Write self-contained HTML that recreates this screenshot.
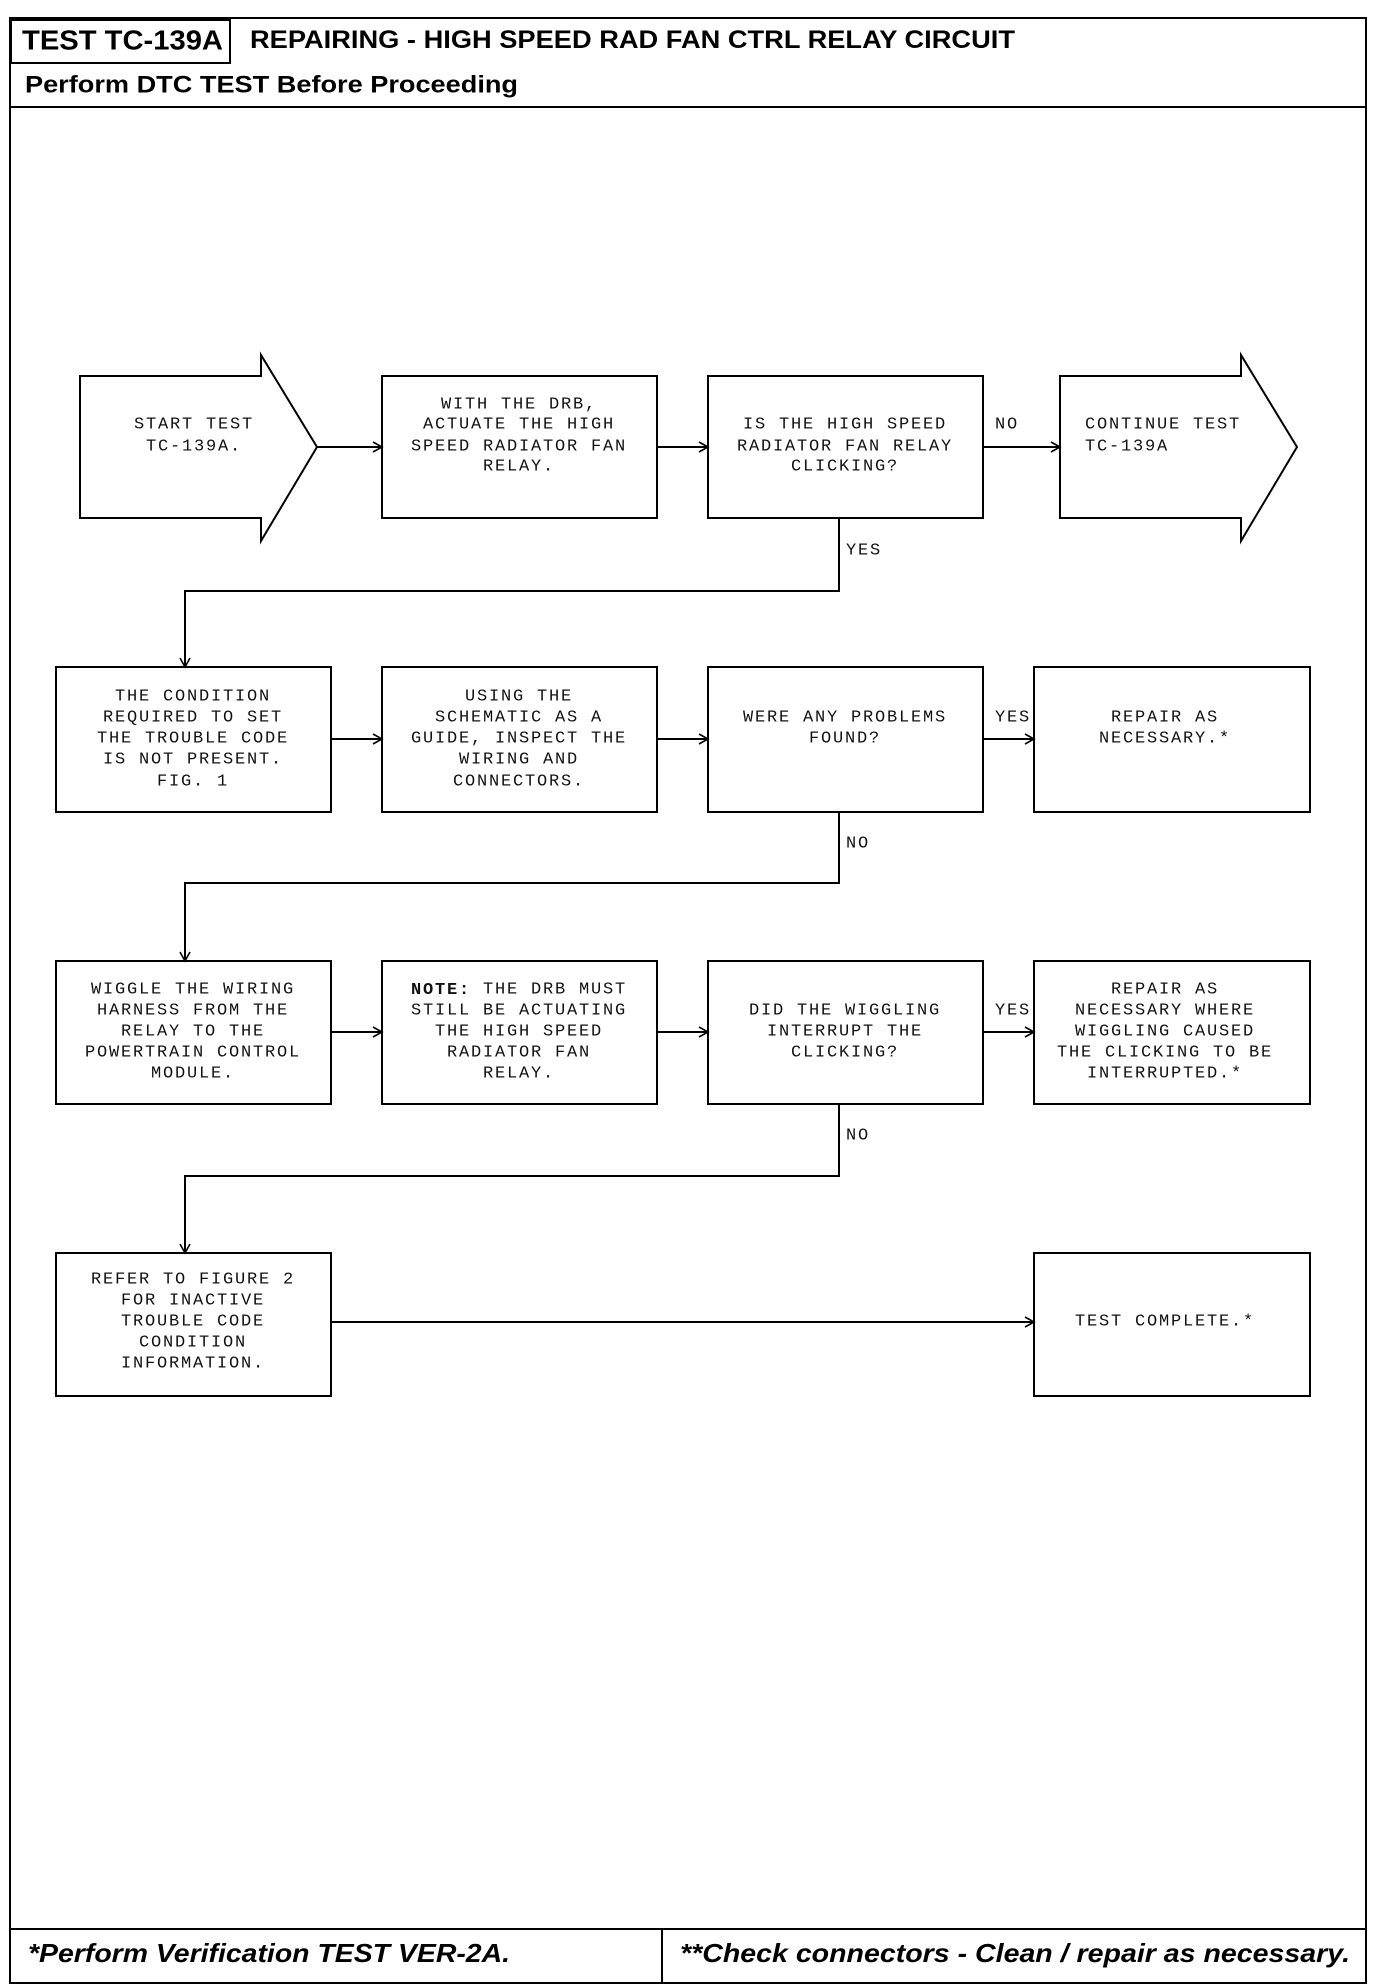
<!DOCTYPE html>
<html><head><meta charset="utf-8"><style>
html,body{margin:0;padding:0;background:#fff}
svg{display:block}
.m{font-family:"Liberation Mono",monospace;font-size:17px;letter-spacing:1.8px;fill:#111;text-anchor:middle;dominant-baseline:central}
.l{text-anchor:start}
.h{font-family:"Liberation Sans",sans-serif;font-weight:bold;fill:#000;dominant-baseline:central}
</style></head><body>
<svg width="1376" height="1986" viewBox="0 0 1376 1986" xmlns="http://www.w3.org/2000/svg">
<defs><marker id="a" markerWidth="12" markerHeight="12" refX="10" refY="6" orient="auto" markerUnits="userSpaceOnUse"><path d="M1,1 L10,6 L1,11" fill="none" stroke="#000" stroke-width="1.6"/></marker></defs>
<g fill="none" stroke="#000" stroke-width="2">
<rect x="10" y="18" width="1356" height="1965"/>
<rect x="11" y="20" width="219" height="43"/>
<line x1="10" y1="107" x2="1366" y2="107"/>
<line x1="10" y1="1929" x2="1366" y2="1929"/>
<line x1="662" y1="1929" x2="662" y2="1983"/>
<!-- row1 -->
<path d="M80,376 H261 V355 L317,447 L261,541 V518 H80 Z"/>
<rect x="382" y="376" width="275" height="142"/>
<rect x="708" y="376" width="275" height="142"/>
<path d="M1060,376 H1241 V355 L1297,447 L1241,541 V518 H1060 Z"/>
<!-- row2 -->
<rect x="56" y="667" width="275" height="145"/>
<rect x="382" y="667" width="275" height="145"/>
<rect x="708" y="667" width="275" height="145"/>
<rect x="1034" y="667" width="276" height="145"/>
<!-- row3 -->
<rect x="56" y="961" width="275" height="143"/>
<rect x="382" y="961" width="275" height="143"/>
<rect x="708" y="961" width="275" height="143"/>
<rect x="1034" y="961" width="276" height="143"/>
<!-- row4 -->
<rect x="56" y="1253" width="275" height="143"/>
<rect x="1034" y="1253" width="276" height="143"/>
<!-- connectors -->
<line x1="317" y1="447" x2="382" y2="447" marker-end="url(#a)"/>
<line x1="657" y1="447" x2="708" y2="447" marker-end="url(#a)"/>
<line x1="983" y1="447" x2="1060" y2="447" marker-end="url(#a)"/>
<path d="M839,518 V591 H185 V667" marker-end="url(#a)"/>
<line x1="331" y1="739" x2="382" y2="739" marker-end="url(#a)"/>
<line x1="657" y1="739" x2="708" y2="739" marker-end="url(#a)"/>
<line x1="983" y1="739" x2="1034" y2="739" marker-end="url(#a)"/>
<path d="M839,812 V883 H185 V961" marker-end="url(#a)"/>
<line x1="331" y1="1032" x2="382" y2="1032" marker-end="url(#a)"/>
<line x1="657" y1="1032" x2="708" y2="1032" marker-end="url(#a)"/>
<line x1="983" y1="1032" x2="1034" y2="1032" marker-end="url(#a)"/>
<path d="M839,1104 V1176 H185 V1253" marker-end="url(#a)"/>
<line x1="331" y1="1322" x2="1034" y2="1322" marker-end="url(#a)"/>
</g>
<text class="h" x="22" y="40" font-size="28" textLength="201" lengthAdjust="spacingAndGlyphs">TEST TC-139A</text>
<text class="h" x="250" y="40" font-size="25" textLength="765" lengthAdjust="spacingAndGlyphs">REPAIRING - HIGH SPEED RAD FAN CTRL RELAY CIRCUIT</text>
<text class="h" x="25" y="85" font-size="24" textLength="493" lengthAdjust="spacingAndGlyphs">Perform DTC TEST Before Proceeding</text>
<text class="h" x="28" y="1953" font-size="26" font-style="italic" textLength="482" lengthAdjust="spacingAndGlyphs">*Perform Verification TEST VER-2A.</text>
<text class="h" x="680" y="1953" font-size="26" font-style="italic" textLength="670" lengthAdjust="spacingAndGlyphs">**Check connectors - Clean / repair as necessary.</text>

<text class="m" x="194" y="425">START TEST</text>
<text class="m" x="194" y="447">TC-139A.</text>
<text class="m" x="519" y="405">WITH THE DRB,</text>
<text class="m" x="519" y="425">ACTUATE THE HIGH</text>
<text class="m" x="519" y="447">SPEED RADIATOR FAN</text>
<text class="m" x="519" y="467">RELAY.</text>
<text class="m" x="845" y="425">IS THE HIGH SPEED</text>
<text class="m" x="845" y="447">RADIATOR FAN RELAY</text>
<text class="m" x="845" y="467">CLICKING?</text>
<text class="m l" x="995" y="425">NO</text>
<text class="m l" x="1085" y="425">CONTINUE TEST</text>
<text class="m l" x="1085" y="447">TC-139A</text>
<text class="m l" x="846" y="551">YES</text>

<text class="m" x="193" y="697">THE CONDITION</text>
<text class="m" x="193" y="718">REQUIRED TO SET</text>
<text class="m" x="193" y="739">THE TROUBLE CODE</text>
<text class="m" x="193" y="760">IS NOT PRESENT.</text>
<text class="m" x="193" y="782">FIG. 1</text>
<text class="m" x="519" y="697">USING THE</text>
<text class="m" x="519" y="718">SCHEMATIC AS A</text>
<text class="m" x="519" y="739">GUIDE, INSPECT THE</text>
<text class="m" x="519" y="760">WIRING AND</text>
<text class="m" x="519" y="782">CONNECTORS.</text>
<text class="m" x="845" y="718">WERE ANY PROBLEMS</text>
<text class="m" x="845" y="739">FOUND?</text>
<text class="m l" x="995" y="718">YES</text>
<text class="m" x="1165" y="718">REPAIR AS</text>
<text class="m" x="1165" y="739">NECESSARY.*</text>
<text class="m l" x="846" y="844">NO</text>

<text class="m" x="193" y="990">WIGGLE THE WIRING</text>
<text class="m" x="193" y="1011">HARNESS FROM THE</text>
<text class="m" x="193" y="1032">RELAY TO THE</text>
<text class="m" x="193" y="1053">POWERTRAIN CONTROL</text>
<text class="m" x="193" y="1074">MODULE.</text>
<text class="m" x="519" y="990"><tspan font-weight="bold">NOTE:</tspan> THE DRB MUST</text>
<text class="m" x="519" y="1011">STILL BE ACTUATING</text>
<text class="m" x="519" y="1032">THE HIGH SPEED</text>
<text class="m" x="519" y="1053">RADIATOR FAN</text>
<text class="m" x="519" y="1074">RELAY.</text>
<text class="m" x="845" y="1011">DID THE WIGGLING</text>
<text class="m" x="845" y="1032">INTERRUPT THE</text>
<text class="m" x="845" y="1053">CLICKING?</text>
<text class="m l" x="995" y="1011">YES</text>
<text class="m" x="1165" y="990">REPAIR AS</text>
<text class="m" x="1165" y="1011">NECESSARY WHERE</text>
<text class="m" x="1165" y="1032">WIGGLING CAUSED</text>
<text class="m" x="1165" y="1053">THE CLICKING TO BE</text>
<text class="m" x="1165" y="1074">INTERRUPTED.*</text>
<text class="m l" x="846" y="1136">NO</text>

<text class="m" x="193" y="1280">REFER TO FIGURE 2</text>
<text class="m" x="193" y="1301">FOR INACTIVE</text>
<text class="m" x="193" y="1322">TROUBLE CODE</text>
<text class="m" x="193" y="1343">CONDITION</text>
<text class="m" x="193" y="1364">INFORMATION.</text>
<text class="m" x="1165" y="1322">TEST COMPLETE.*</text>
</svg>
</body></html>
